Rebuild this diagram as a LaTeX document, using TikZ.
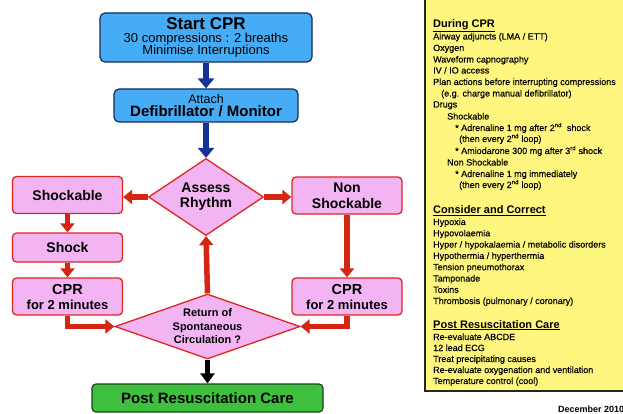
\documentclass[tikz,border=0pt]{standalone}
\usepackage{fontspec}
\setmainfont{Liberation Sans}
\newfontfamily\notefont[FakeBold=0.35]{Liberation Sans}
\usetikzlibrary{shapes.geometric,arrows.meta}

\definecolor{boxblue}{RGB}{70,172,245}
\definecolor{edgeblue}{RGB}{25,40,90}
\definecolor{arrowblue}{RGB}{22,50,150}
\definecolor{boxpink}{RGB}{242,180,242}
\definecolor{edgered}{RGB}{220,40,30}
\definecolor{arrowred}{RGB}{212,38,18}
\definecolor{boxgreen}{RGB}{62,192,62}
\definecolor{edgegreen}{RGB}{20,70,20}
\definecolor{notebg}{RGB}{255,246,128}

\newcommand{\infoline}[4]{\node[infotext] (#1) at (#2,#3) {#4};}
\newcommand{\infohead}[4]{\node[infohead] (#1) at (#2,#3) {\underline{#4}};}

\begin{document}
% fixed baseline distances inside multi-line nodes
\lineskiplimit=-100pt
\lineskip=0pt
\begin{tikzpicture}[x=1pt,y=-1pt,
  bluebox/.style={draw=edgeblue,line width=1.2pt,fill=boxblue,rounded corners=5pt,
    align=center,inner sep=0pt},
  pinkbox/.style={draw=edgered,line width=1.3pt,fill=boxpink,rounded corners=4pt,
    align=center,inner sep=0pt,minimum width=110pt,
    font=\bfseries\fontsize{14}{16}\selectfont},
  decision/.style={diamond,draw=edgered,line width=1.3pt,fill=boxpink,
    align=center,inner sep=0pt},
  greenbox/.style={draw=edgegreen,line width=1.2pt,fill=boxgreen,rounded corners=4pt,
    align=center,inner sep=0pt,font=\bfseries\fontsize{15}{16}\selectfont},
  redarrow/.style={draw=arrowred,line width=5.5pt,-{Triangle[width=14pt,length=9pt]}},
  bluearrow/.style={draw=arrowblue,line width=6.5pt,-{Triangle[width=16pt,length=10pt]}},
  blackarrow/.style={draw=black,line width=5.5pt,-{Triangle[width=14pt,length=10pt]}},
  infotext/.style={anchor=base west,inner sep=0pt,font=\notefont\fontsize{9}{11}\selectfont},
  infohead/.style={anchor=base west,inner sep=0pt,font=\bfseries\fontsize{11}{12}\selectfont},
]
\clip (0,0) rectangle (623,414);
\fill[white] (0,0) rectangle (623,414);

% ---- flowchart ----
\node[bluebox,minimum width=212pt,minimum height=49pt,
  font=\fontsize{13}{12.5}\selectfont] (start) at (206,37.5)
  {{\bfseries\fontsize{17}{13}\selectfont Start CPR}\\[0.5pt]
   30 compressions : 2 breaths\\
   Minimise Interruptions};

\node[bluebox,minimum width=184pt,minimum height=33pt,
  font=\fontsize{12.5}{13.5}\selectfont] (attach) at (206,105.5)
  {Attach\\{\bfseries\fontsize{15}{13.5}\selectfont Defibrillator / Monitor}};

\node[decision,shape aspect=1.5,minimum width=115pt,minimum height=77pt,
  font=\bfseries\fontsize{14}{15}\selectfont] (assess) at (206,197)
  {Assess\\Rhythm};

\node[pinkbox,minimum height=37pt] (shockable) at (67.5,195) {Shockable};
\node[pinkbox,minimum height=29pt] (shock) at (67.5,247.5) {Shock};
\node[pinkbox,minimum height=37pt,font=\bfseries\fontsize{14.5}{15}\selectfont] (cprL) at (67.5,296.5)
  {CPR\\{\fontsize{13}{15}\selectfont for 2 minutes}};

\node[pinkbox,minimum height=37pt] (nonshock) at (347,195.5) {Non\\Shockable};
\node[pinkbox,minimum height=37pt,font=\bfseries\fontsize{14.5}{15}\selectfont] (cprR) at (347,296.5)
  {CPR\\{\fontsize{13}{15}\selectfont for 2 minutes}};

\node[decision,shape aspect=2.85,minimum width=185pt,minimum height=65pt,
  font=\bfseries\fontsize{11}{13.5}\selectfont] (rosc) at (207.5,326.5)
  {Return of\\Spontaneous\\Circulation ?};

\node[greenbox,minimum width=231pt,minimum height=28pt] (post) at (207.5,398)
  {Post Resuscitation Care};

% ---- connectors ----
\draw[bluearrow] (start.south) -- (attach.north);
\draw[bluearrow] (attach.south) -- (assess.north);
\draw[redarrow] (assess.west) -- (assess.west -| shockable.east);
\draw[redarrow] (assess.east) -- (assess.east -| nonshock.west);
\draw[redarrow] (shockable.south) -- (shock.north);
\draw[redarrow] (shock.south) -- (cprL.north);
\draw[redarrow] (nonshock.south) -- (cprR.north);
\draw[redarrow] (cprL.south) |- (rosc.west);
\draw[redarrow] (cprR.south) |- (rosc.east);
\draw[redarrow] (rosc.north) -- (assess.south);
\draw[blackarrow] (rosc.south) -- (post.north);

% ---- notes panel ----
\draw[fill=notebg,draw=black!85,line width=1.2pt] (425,-5) rectangle (640,391);

\infohead{h1}{433}{27.5}{During CPR}
\infoline{a1}{433}{39.5}{Airway adjuncts (LMA / ETT)}
\infoline{a2}{433}{51}{Oxygen}
\infoline{a3}{433}{62.5}{Waveform capnography}
\infoline{a4}{433}{73.5}{IV / IO access}
\infoline{a5}{433}{85}{Plan actions before interrupting compressions}
\infoline{a6}{441}{96.5}{(e.g. charge manual defibrillator)}
\infoline{a7}{433}{107.5}{Drugs}
\infoline{a8}{447}{119.5}{Shockable}
\infoline{a9}{455}{131}{* Adrenaline 1 mg after 2\textsuperscript{nd}\ \ shock}
\infoline{a10}{459}{142}{(then every 2\textsuperscript{nd} loop)}
\infoline{a11}{455}{154}{* Amiodarone 300 mg after 3\textsuperscript{rd} shock}
\infoline{a12}{447}{165.5}{Non Shockable}
\infoline{a13}{455}{177}{* Adrenaline 1 mg immediately}
\infoline{a14}{459}{188}{(then every 2\textsuperscript{nd} loop)}

\infohead{h2}{433}{213.5}{Consider and Correct}
\infoline{b1}{433}{225}{Hypoxia}
\infoline{b2}{433}{236.3}{Hypovolaemia}
\infoline{b3}{433}{247.6}{Hyper / hypokalaemia / metabolic disorders}
\infoline{b4}{433}{258.9}{Hypothermia / hyperthermia}
\infoline{b5}{433}{270.2}{Tension pneumothorax}
\infoline{b6}{433}{281.5}{Tamponade}
\infoline{b7}{433}{292.8}{Toxins}
\infoline{b8}{433}{304}{Thrombosis (pulmonary / coronary)}

\infohead{h3}{433}{328}{Post Resuscitation Care}
\infoline{c1}{433}{340}{Re-evaluate ABCDE}
\infoline{c2}{433}{351}{12 lead ECG}
\infoline{c3}{433}{362}{Treat precipitating causes}
\infoline{c4}{433}{373}{Re-evaluate oxygenation and ventilation}
\infoline{c5}{433}{384}{Temperature control (cool)}

\node[anchor=base west,inner sep=0pt,font=\bfseries\fontsize{9}{11}\selectfont]
  (date) at (558,412) {December 2010};
\end{tikzpicture}
\end{document}
